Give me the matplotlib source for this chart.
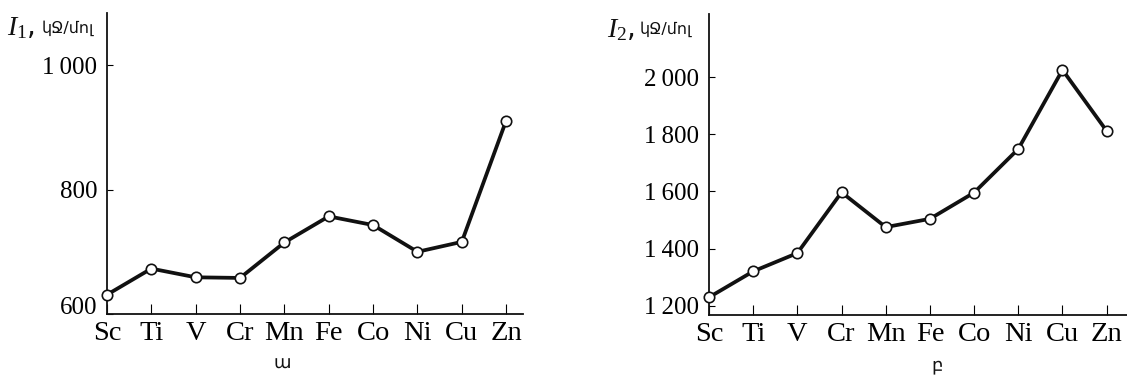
import matplotlib
matplotlib.use("Agg")
import matplotlib.pyplot as plt
import matplotlib.transforms as mtransforms

plt.rcParams['mathtext.fontset'] = 'custom'
plt.rcParams['mathtext.it'] = 'Liberation Serif:italic'
plt.rcParams['mathtext.rm'] = 'Liberation Serif'

elements = ["Sc", "Ti", "V", "Cr", "Mn", "Fe", "Co", "Ni", "Cu", "Zn"]
i1_values = [631, 673, 659, 658, 715, 757, 743, 700, 716, 911]
i2_values = [1229, 1320, 1384, 1597, 1475, 1504, 1596, 1749, 2026, 1812]
i1_ticks = [600, 800, 1000]
i1_ticklabels = ["600", "800", "1\u2009000"]
i2_ticks = [1200, 1400, 1600, 1800, 2000]
i2_ticklabels = ["1\u2009200", "1\u2009400", "1\u2009600", "1\u2009800", "2\u2009000"]
unit = "կՋ/մոլ"
panel_letters = ["ա", "բ"]

serif = ['Liberation Serif', 'DejaVu Serif']

fig = plt.figure(figsize=(11.27, 3.79), dpi=100)
ax1 = fig.add_axes([107/1127, 1-314/379, 416/1127, 301/379])
ax2 = fig.add_axes([709/1127, 1-315/379, 418/1127, 301/379])

def style(ax, ticks, ticklabels, ylim, xmax):
    x = list(range(len(elements)))
    for s in ['top', 'right']:
        ax.spines[s].set_visible(False)
    for s in ['left', 'bottom']:
        ax.spines[s].set_linewidth(1.3)
        ax.spines[s].set_color('#111111')
    ax.set_xlim(0, xmax)
    ax.set_ylim(*ylim)
    ax.set_xticks(x)
    ax.set_xticklabels(elements, fontfamily=serif, fontsize=20.5)
    ax.set_yticks(ticks)
    ax.set_yticklabels(ticklabels, fontfamily=serif, fontsize=18)
    ax.tick_params(axis='x', direction='in', length=7, width=0.8, pad=5)
    ax.tick_params(axis='y', direction='in', length=4, width=0.8, pad=7)

style(ax1, i1_ticks, i1_ticklabels, (600, 1084), 9.38)
style(ax2, i2_ticks, i2_ticklabels, (1167, 2222), 9.46)

# lift the lowest label of the left panel slightly, as in the reference
lbl = ax1.get_yticklabels()[0]
lbl.set_transform(lbl.get_transform() + mtransforms.ScaledTranslation(0, 0.08, fig.dpi_scale_trans))

for ax, vals in [(ax1, i1_values), (ax2, i2_values)]:
    ax.plot(range(len(elements)), vals, color='#111111', lw=2.7,
            marker='o', markersize=7.5, markerfacecolor='white',
            markeredgecolor='#111111', markeredgewidth=1.2, clip_on=False, zorder=3)

fig.text(7/1127, 1-35/379, r'$I_1$,', fontsize=20, color='#111111')
fig.text(42/1127, 1-33/379, unit, fontsize=11.5, family='DejaVu Sans', color='#111111')
fig.text(607/1127, 1-37/379, r'$I_2$,', fontsize=20, color='#111111')
fig.text(640/1127, 1-34/379, unit, fontsize=11.5, family='DejaVu Sans', color='#111111')

fig.text(282/1127, 1-364/379, panel_letters[0], fontsize=13, family='DejaVu Sans',
         ha='center', va='center', color='#111111')
fig.text(937/1127, 1-365/379, panel_letters[1], fontsize=13, family='DejaVu Sans',
         ha='center', va='center', color='#111111')

fig.savefig("out.png", dpi=100)
